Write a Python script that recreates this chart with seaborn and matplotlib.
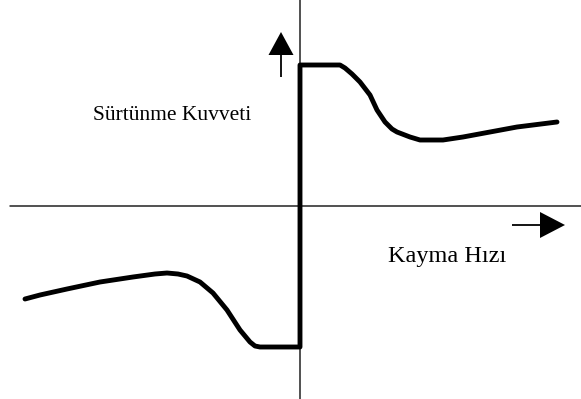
import matplotlib
matplotlib.use("Agg")
import matplotlib.pyplot as plt
import seaborn as sns
import pandas as pd

# Friction force versus slip velocity (arbitrary units)
v_neg = [-2.75, -2.60, -2.33, -2.00, -1.67, -1.45, -1.33, -1.22, -1.13, -1.00, -0.87, -0.73,
         -0.60, -0.50, -0.45, -0.40, 0.0]
f_neg = [-0.92, -0.88, -0.82, -0.75, -0.70, -0.67, -0.66, -0.67, -0.69, -0.75, -0.86, -1.03,
         -1.23, -1.35, -1.39, -1.40, -1.40]
v_pos = [0.0, 0.40, 0.45, 0.52, 0.60, 0.70, 0.77, 0.85, 0.92, 0.97, 1.10, 1.20, 1.43, 1.63,
         1.90, 2.17, 2.57]
f_pos = [1.42, 1.42, 1.39, 1.33, 1.25, 1.12, 0.97, 0.85, 0.78, 0.75, 0.70, 0.67, 0.67, 0.70,
         0.75, 0.80, 0.85]

force_label = "Sürtünme Kuvveti"
velocity_label = "Kayma Hızı"

df = pd.DataFrame({"v": v_neg + v_pos, "F": f_neg + f_pos,
                   "order": range(len(v_neg) + len(v_pos))})

sns.set_theme(style="white")
plt.rcParams["font.family"] = ["Liberation Serif", "DejaVu Serif"]

fig = plt.figure(figsize=(5.81, 3.99), dpi=100)
ax = fig.add_axes([0, 0, 1, 1])
ax.set_xlim(-3.00, 2.81)
ax.set_ylim(-1.92, 2.07)
ax.axis("off")

# coordinate axes
ax.plot([-2.90, 2.81], [0.01, 0.01], color="#222222", lw=1.1, zorder=1)
ax.plot([0.0, 0.0], [-1.92, 2.07], color="#222222", lw=1.1, zorder=1)

# friction characteristic
sns.lineplot(data=df, x="v", y="F", sort=False, estimator=None, color="black",
             lw=3.5, ax=ax, zorder=3, solid_joinstyle="round")

# direction arrows
ax.arrow(-0.19, 1.30, 0, 0.22, width=0.018, head_width=0.25, head_length=0.23,
         length_includes_head=False, color="black", lw=0)
ax.arrow(2.12, -0.18, 0.28, 0, width=0.018, head_width=0.26, head_length=0.25,
         length_includes_head=False, color="black", lw=0)

ax.text(-0.49, 0.87, force_label, fontsize=15.5, ha="right", va="baseline", color="black")
ax.text(0.88, -0.55, velocity_label, fontsize=17.5, ha="left", va="baseline", color="black")

fig.savefig("out.png", dpi=100)
